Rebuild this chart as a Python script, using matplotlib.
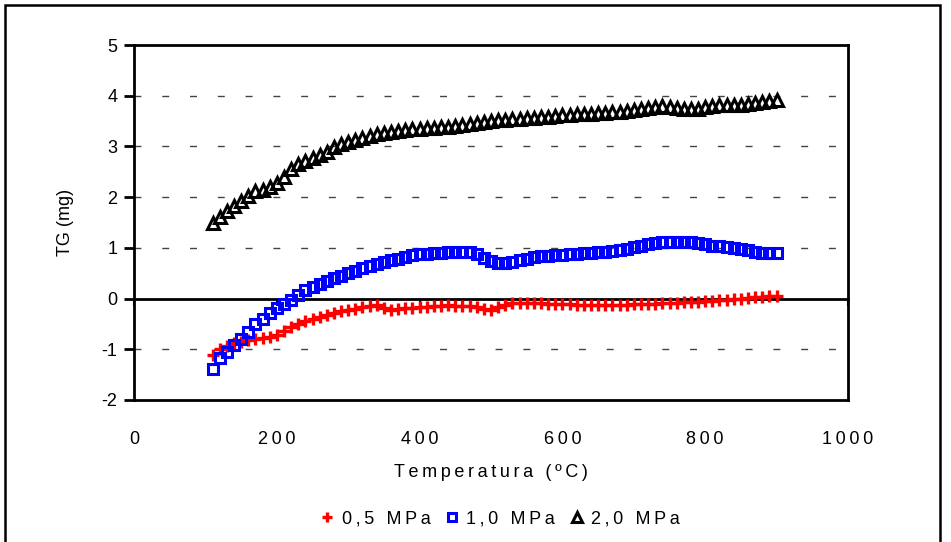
import matplotlib
matplotlib.use("Agg")
import matplotlib.pyplot as plt
from matplotlib.patches import Rectangle

plt.rcParams['font.family'] = ['Liberation Sans', 'DejaVu Sans']

temperature = [110, 120, 130, 140, 150, 160, 170, 180, 190, 200,
               210, 220, 230, 240, 250, 260, 270, 280, 290, 300,
               310, 320, 330, 340, 350, 360, 370, 380, 390, 400,
               410, 420, 430, 440, 450, 460, 470, 480, 490, 500,
               510, 520, 530, 540, 550, 560, 570, 580, 590, 600,
               610, 620, 630, 640, 650, 660, 670, 680, 690, 700,
               710, 720, 730, 740, 750, 760, 770, 780, 790, 800,
               810, 820, 830, 840, 850, 860, 870, 880, 890, 900]

tg_05 = [-1.12, -1.00, -0.93, -0.88, -0.85, -0.82, -0.80, -0.78, -0.76, -0.72,
         -0.64, -0.56, -0.50, -0.45, -0.40, -0.36, -0.32, -0.28, -0.24, -0.22,
         -0.20, -0.17, -0.15, -0.13, -0.18, -0.22, -0.20, -0.19, -0.18, -0.17,
         -0.16, -0.15, -0.14, -0.13, -0.14, -0.14, -0.14, -0.16, -0.21, -0.22,
         -0.17, -0.12, -0.09, -0.08, -0.08, -0.08, -0.09, -0.10, -0.10, -0.11,
         -0.11, -0.12, -0.12, -0.12, -0.12, -0.12, -0.12, -0.12, -0.12, -0.11,
         -0.11, -0.10, -0.10, -0.09, -0.09, -0.08, -0.07, -0.07, -0.06, -0.05,
         -0.04, -0.03, -0.02, -0.01, 0.00, 0.01, 0.03, 0.04, 0.05, 0.06]

tg_10 = [-1.38, -1.18, -1.05, -0.92, -0.80, -0.66, -0.50, -0.40, -0.28, -0.18,
         -0.10, -0.02, 0.08, 0.16, 0.22, 0.28, 0.34, 0.40, 0.45, 0.50,
         0.55, 0.60, 0.64, 0.68, 0.72, 0.76, 0.79, 0.82, 0.85, 0.87,
         0.88, 0.89, 0.90, 0.91, 0.92, 0.92, 0.91, 0.87, 0.80, 0.74,
         0.70, 0.70, 0.73, 0.76, 0.79, 0.81, 0.83, 0.84, 0.85, 0.86,
         0.87, 0.88, 0.89, 0.90, 0.91, 0.92, 0.93, 0.95, 0.98, 1.01,
         1.04, 1.07, 1.10, 1.12, 1.12, 1.11, 1.11, 1.11, 1.10, 1.07,
         1.04, 1.03, 1.02, 1.00, 0.98, 0.95, 0.91, 0.89, 0.89, 0.90]

tg_20 = [1.50, 1.60, 1.72, 1.82, 1.92, 2.03, 2.12, 2.14, 2.20, 2.28,
         2.40, 2.55, 2.65, 2.72, 2.78, 2.84, 2.90, 2.98, 3.04, 3.08,
         3.13, 3.17, 3.21, 3.24, 3.27, 3.29, 3.31, 3.33, 3.34, 3.35,
         3.36, 3.37, 3.38, 3.39, 3.41, 3.43, 3.45, 3.47, 3.49, 3.51,
         3.52, 3.53, 3.54, 3.55, 3.56, 3.57, 3.58, 3.59, 3.60, 3.61,
         3.62, 3.63, 3.64, 3.64, 3.65, 3.66, 3.67, 3.68, 3.70, 3.72,
         3.74, 3.76, 3.78, 3.79, 3.78, 3.75, 3.73, 3.73, 3.74, 3.77,
         3.80, 3.82, 3.82, 3.81, 3.82, 3.84, 3.86, 3.88, 3.90, 3.92]

series_labels = ['0,5 MPa', '1,0 MPa', '2,0 MPa']
x_ticks = [0, 200, 400, 600, 800, 1000]
y_ticks = [-2, -1, 0, 1, 2, 3, 4, 5]
x_label = 'Temperatura (ºC)'
y_label = 'TG (mg)'


def spaced(s, sep='\u2009'):
    return sep.join(s)


FS = 13
W, H = 951, 542
fig = plt.figure(figsize=(W / 100, H / 100), dpi=100)
ax = fig.add_axes([134 / W, 1 - 400 / H, 714 / W, 355 / H])

# outer chart frame
fig.patches.append(Rectangle((5 / W, -0.1), (940 - 5) / W, 1.1 - 5 / H,
                             transform=fig.transFigure, fill=False,
                             edgecolor='black', linewidth=1.8))

ax.set_xlim(0, 1000)
ax.set_ylim(-2, 5)

for y in y_ticks:
    if y not in (-2, 0, 5):
        ax.axhline(y, color='#444444', linewidth=1.0, linestyle=(0, (5, 15)), zorder=1)

ax.plot(temperature, tg_05, linestyle='none', marker='+', markersize=9,
        markeredgewidth=2.4, color='#ff0000', label=series_labels[0], zorder=3)
ax.plot(temperature, tg_10, linestyle='none', marker='s', markersize=7.5,
        markeredgewidth=2.2, markerfacecolor='none', markeredgecolor='#0000ff',
        label=series_labels[1], zorder=3)
ax.plot(temperature, tg_20, linestyle='none', marker='^', markersize=9,
        markeredgewidth=2.2, markerfacecolor='none', markeredgecolor='black',
        label=series_labels[2], zorder=3)

for s in ax.spines.values():
    s.set_linewidth(2.0)

ax.set_xticks(x_ticks)
ax.set_xticklabels([spaced(str(t)) for t in x_ticks])
ax.set_yticks(y_ticks)
ax.set_yticklabels([str(t) for t in y_ticks])
ax.tick_params(axis='x', length=0, pad=22, labelsize=FS)
ax.tick_params(axis='y', direction='out', length=7, width=2, pad=5, labelsize=FS)

# x-axis crossing at zero
sec = ax.secondary_xaxis(2 / 7)
sec.set_xticks(x_ticks)
sec.tick_params(direction='out', length=5, width=1.5, labelbottom=False)
sec.spines['bottom'].set_linewidth(2.0)

ax.set_xlabel(spaced(x_label), fontsize=FS, labelpad=12)
ax.set_ylabel(y_label, fontsize=FS, labelpad=20)

handles, labels = ax.get_legend_handles_labels()
fig.legend(handles, [spaced(l) for l in labels], loc='center',
           bbox_to_anchor=(500 / W, 1 - 519 / H), ncol=3, frameon=False,
           fontsize=FS, handlelength=0.8, handletextpad=0.4, columnspacing=0.8,
           markerscale=0.8)

fig.savefig('out.png', dpi=100)
